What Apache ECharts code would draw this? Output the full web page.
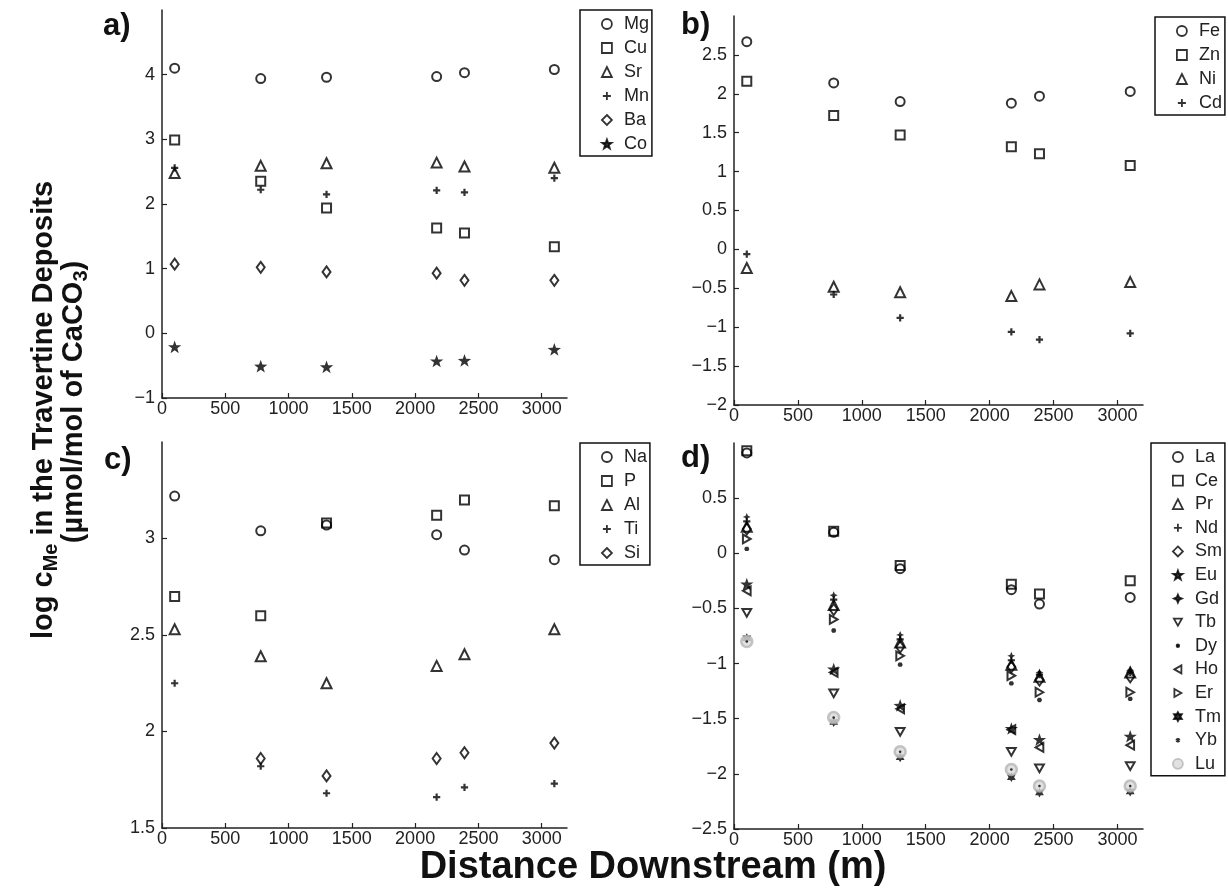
<!DOCTYPE html>
<html>
<head>
<meta charset="utf-8">
<title>Travertine deposits</title>
<script src="https://cdn.jsdelivr.net/npm/echarts@6/dist/echarts.min.js"></script>
<style>
  html, body { margin: 0; padding: 0; background: #fff; }
  #chart { width: 1228px; height: 892px; }
</style>
</head>
<body>
<div id="chart"></div>
<script>
// distance downstream of the sampling sites (m)
var distance = [100, 780, 1300, 2170, 2390, 3100];

// a) log c in the deposits
var mg = [4.10, 3.94, 3.96, 3.97, 4.03, 4.08];
var cu = [2.99, 2.35, 1.94, 1.63, 1.55, 1.34];
var sr = [2.48, 2.59, 2.63, 2.64, 2.58, 2.56];
var mn = [2.56, 2.22, 2.15, 2.21, 2.18, 2.40];
var ba = [1.07, 1.02, 0.95, 0.93, 0.82, 0.82];
var co = [-0.21, -0.51, -0.52, -0.43, -0.42, -0.25];

// b)
var fe = [2.67, 2.14, 1.90, 1.88, 1.97, 2.03];
var zn = [2.16, 1.72, 1.47, 1.32, 1.23, 1.08];
var ni = [-0.24, -0.48, -0.55, -0.60, -0.45, -0.42];
var cd = [-0.06, -0.58, -0.88, -1.06, -1.16, -1.08];

// c)
var na = [3.22, 3.04, 3.07, 3.02, 2.94, 2.89];
var p  = [2.70, 2.60, 3.08, 3.12, 3.20, 3.17];
var al = [2.53, 2.39, 2.25, 2.34, 2.40, 2.53];
var ti = [2.25, 1.82, 1.68, 1.66, 1.71, 1.73];
var si = [null, 1.86, 1.77, 1.86, 1.89, 1.94];

// d) rare earths
var la = [0.91, 0.19, -0.14, -0.33, -0.46, -0.40];
var ce = [0.93, 0.20, -0.11, -0.28, -0.37, -0.25];
var pr = [0.24, -0.47, -0.81, -1.01, -1.12, -1.08];
var nd = [0.29, -0.42, -0.78, -0.97, -1.10, -1.08];
var sm = [0.22, -0.51, -0.85, -1.03, -1.15, -1.12];
var eu = [-0.28, -1.05, -1.38, -1.59, -1.69, -1.66];
var gd = [0.33, -0.38, -0.74, -0.93, -1.08, -1.06];
var tb = [-0.54, -1.27, -1.62, -1.80, -1.95, -1.93];
var dy = [-0.80, -1.49, -1.80, -1.96, -2.11, -2.11];
var ho = [-0.34, -1.08, -1.41, -1.60, -1.76, -1.74];
var er = [0.13, -0.60, -0.93, -1.11, -1.26, -1.26];
var tm = [-0.77, -1.53, -1.85, -2.03, -2.17, -2.16];
var yb = [0.04, -0.70, -1.01, -1.18, -1.33, -1.32];
var lu = [-0.80, -1.49, -1.80, -1.96, -2.11, -2.11];

var FONT = '"Liberation Sans", Arial, Helvetica, sans-serif';
var INK = '#222';
var F = 'path://M0,0M10,10'; // 10x10 frame so every marker scales the same way

// marker styles, matlab-like
var MK = {
  o:    { symbol: 'circle', size: 9, hollow: true },
  s:    { symbol: 'rect', size: 9, hollow: true },
  tri:  { symbol: 'triangle', size: 10, hollow: true },
  plus: { symbol: F + 'M5,1V9M1,5H9', size: 9, line: true },
  d:    { symbol: 'diamond', size: [8, 11], hollow: true },
  star: { symbol: F + 'M5,0.4L6.18,3.78L9.76,3.86L6.9,6.02L7.94,9.45L5,7.4L2.06,9.45L3.1,6.02L0.24,3.86L3.82,3.78Z', size: 14 },
  gd:   { symbol: F + 'M5,1L6.2,3.8L9,5L6.2,6.2L5,9L3.8,6.2L1,5L3.8,3.8Z', size: 10 },
  tdn:  { symbol: F + 'M1,1.5H9L5,8.5Z', size: 11, hollow: true },
  dot:  { symbol: F + 'M6.3,5A1.3,1.3 0 1 1 3.7,5A1.3,1.3 0 1 1 6.3,5Z', size: 10 },
  tlt:  { symbol: F + 'M1.5,5L8.5,1V9Z', size: 11, hollow: true },
  trt:  { symbol: F + 'M8.5,5L1.5,1V9Z', size: 11, hollow: true },
  hex:  { symbol: F + 'M5,0.5L9,7.5H1ZM5,9.5L1,2.5H9Z', size: 11 },
  ast:  { symbol: F + 'M5,2.8V7.2M3,3.8L7,6.2M7,3.8L3,6.2', size: 10, line: true },
  lu:   { symbol: 'circle', size: 11, gray: true }
};

function points(vals) {
  var out = [];
  for (var i = 0; i < distance.length; i++) {
    if (vals[i] != null) out.push([distance[i], vals[i]]);
  }
  return out;
}

function series(name, vals, mk, g, z) {
  var st;
  if (mk.gray) st = { color: '#dadada', borderColor: '#b5b5b5', borderWidth: 2.5 };
  else if (mk.hollow) st = { color: 'rgba(0,0,0,0)', borderColor: '#000', borderWidth: 2 };
  else if (mk.line) st = { color: '#000', borderColor: '#000', borderWidth: 2.2 };
  else st = { color: '#000', borderColor: '#000', borderWidth: 0 };
  return {
    name: name, type: 'scatter', xAxisIndex: g, yAxisIndex: g,
    symbol: mk.symbol, symbolSize: mk.size, z: z || 2,
    itemStyle: st, emphasis: { disabled: true },
    data: points(vals)
  };
}

function minus(v) { return String(v).replace('-', '\u2212'); }

function xAxis(g) {
  return {
    gridIndex: g, type: 'value', min: 0, max: 3200, interval: 500,
    axisLine: { show: true, onZero: false, lineStyle: { color: INK, width: 1.5 } },
    axisTick: { show: true, inside: true, length: 5, lineStyle: { color: INK, width: 1.2 } },
    axisLabel: { showMaxLabel: false, color: INK, fontSize: 18, fontFamily: FONT, margin: 2,
      formatter: function (v) { return String(v); } },
    splitLine: { show: false }
  };
}
function yAxis(g, min, max, step) {
  return {
    gridIndex: g, type: 'value', min: min, max: max, interval: step,
    axisLine: { show: true, onZero: false, lineStyle: { color: INK, width: 1.5 } },
    axisTick: { show: true, inside: true, length: 5, lineStyle: { color: INK, width: 1.2 } },
    axisLabel: { showMaxLabel: false, color: INK, fontSize: 18, fontFamily: FONT, margin: 7, formatter: minus },
    splitLine: { show: false }
  };
}

function legend(names, marks, left, top, gap) {
  return {
    orient: 'vertical', left: left, top: top, selectedMode: false,
    itemWidth: 10, itemHeight: 10, itemGap: gap || 6,
    padding: [5, 3, 3, 21],
    borderColor: '#111', borderWidth: 1.5, borderRadius: 0,
    itemStyle: { borderWidth: 1.8 },
    textStyle: { fontSize: 18, lineHeight: 18, color: INK, fontFamily: FONT, padding: [0, 0, 0, 7] },
    data: names.map(function (n, i) { return { name: n, icon: marks[i].symbol }; })
  };
}

var aNames = ['Mg', 'Cu', 'Sr', 'Mn', 'Ba', 'Co'];
var aMarks = [MK.o, MK.s, MK.tri, MK.plus, MK.d, MK.star];
var bNames = ['Fe', 'Zn', 'Ni', 'Cd'];
var bMarks = [MK.o, MK.s, MK.tri, MK.plus];
var cNames = ['Na', 'P', 'Al', 'Ti', 'Si'];
var cMarks = [MK.o, MK.s, MK.tri, MK.plus, MK.d];
var dNames = ['La', 'Ce', 'Pr', 'Nd', 'Sm', 'Eu', 'Gd', 'Tb', 'Dy', 'Ho', 'Er', 'Tm', 'Yb', 'Lu'];
var dMarks = [MK.o, MK.s, MK.tri, MK.plus, MK.d, MK.star, MK.gd, MK.tdn, MK.dot, MK.tlt, MK.trt, MK.hex, MK.ast, MK.lu];

var aVals = [mg, cu, sr, mn, ba, co];
var bVals = [fe, zn, ni, cd];
var cVals = [na, p, al, ti, si];
var dVals = [la, ce, pr, nd, sm, eu, gd, tb, dy, ho, er, tm, yb, lu];

var allSeries = [];
aNames.forEach(function (n, i) { allSeries.push(series(n, aVals[i], aMarks[i], 0)); });
bNames.forEach(function (n, i) { allSeries.push(series(n, bVals[i], bMarks[i], 1)); });
cNames.forEach(function (n, i) { allSeries.push(series(n, cVals[i], cMarks[i], 2)); });
dNames.forEach(function (n, i) { allSeries.push(series(n, dVals[i], dMarks[i], 3, n === 'Dy' ? 4 : 2)); });

function label(txt, x, y) {
  return { type: 'text', x: x, y: y,
    style: { text: txt, font: 'bold 31px ' + FONT, fill: '#111', textVerticalAlign: 'middle', verticalAlign: 'middle' } };
}

var myChart = echarts.init(document.getElementById('chart'));
var option = {
  animation: false,
  backgroundColor: '#fff',
  grid: [
    { left: 162, top: 10, width: 405, height: 388 },
    { left: 734, top: 16, width: 409, height: 389 },
    { left: 162, top: 442, width: 405, height: 386 },
    { left: 734, top: 443, width: 409, height: 386 }
  ],
  xAxis: [xAxis(0), xAxis(1), xAxis(2), xAxis(3)],
  yAxis: [yAxis(0, -1, 5, 1), yAxis(1, -2, 3, 0.5), yAxis(2, 1.5, 3.5, 0.5), yAxis(3, -2.5, 1, 0.5)],
  legend: [
    legend(aNames, aMarks, 580, 10),
    legend(bNames, bMarks, 1155, 17),
    legend(cNames, cMarks, 580, 443),
    legend(dNames, dMarks, 1151, 443, 5.6)
  ],
  series: allSeries,
  graphic: [
    label('a)', 103, 26),
    label('b)', 681, 25),
    label('c)', 104, 460),
    label('d)', 681, 458),
    {
      type: 'text', x: 44, y: 410, rotation: Math.PI / 2,
      style: {
        text: '{m|log c}{s|Me}{m| in the Travertine Deposits}',
        textAlign: 'center', align: 'center', textVerticalAlign: 'middle', verticalAlign: 'middle',
        rich: {
          m: { font: 'bold 29px ' + FONT, fill: '#111', lineHeight: 34 },
          s: { font: 'bold 20px ' + FONT, fill: '#111', lineHeight: 20, verticalAlign: 'bottom' }
        }
      }
    },
    {
      type: 'text', x: 74, y: 402, rotation: Math.PI / 2,
      style: {
        text: '{m|(\u00b5mol/mol of CaCO}{s|3}{m|)}',
        textAlign: 'center', align: 'center', textVerticalAlign: 'middle', verticalAlign: 'middle',
        rich: {
          m: { font: 'bold 29px ' + FONT, fill: '#111', lineHeight: 34 },
          s: { font: 'bold 20px ' + FONT, fill: '#111', lineHeight: 20, verticalAlign: 'bottom' }
        }
      }
    },
    {
      type: 'text', x: 653, y: 868,
      style: { text: 'Distance Downstream (m)', font: 'bold 38px ' + FONT, fill: '#111',
        textAlign: 'center', align: 'center', textVerticalAlign: 'middle', verticalAlign: 'middle' }
    }
  ]
};
myChart.setOption(option);
</script>
</body>
</html>
